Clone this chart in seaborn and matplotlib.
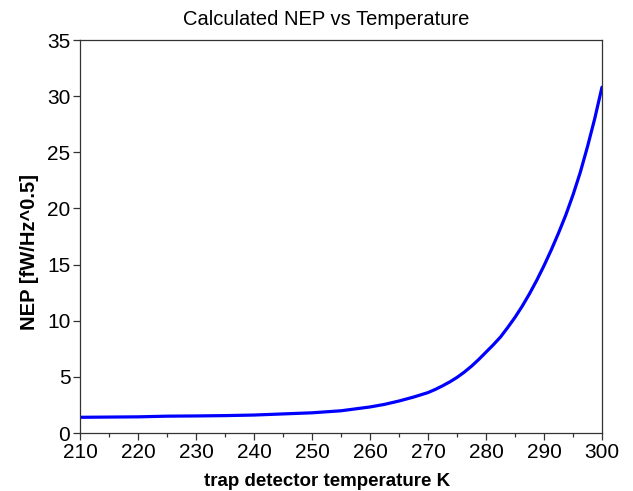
import matplotlib
matplotlib.use("Agg")
import matplotlib.pyplot as plt
from matplotlib.ticker import MultipleLocator
import pandas as pd
import seaborn as sns

# Detector temperature (K) and calculated NEP (fW/Hz^0.5)
temperature = [210, 215, 220, 225, 230, 235, 240, 245, 250, 255, 260,
               262.5, 265, 267.5, 270, 271.25, 272.5, 273.75, 275, 276.25,
               277.5, 278.75, 280, 281.25, 282.5, 283.75, 285, 286.25,
               287.5, 288.75, 290, 291.25, 292.5, 293.75, 295, 296.25,
               297.5, 298.75, 300]
nep = [1.40, 1.42, 1.44, 1.50, 1.52, 1.55, 1.60, 1.70, 1.80, 1.98, 2.32,
       2.55, 2.85, 3.20, 3.60, 3.88, 4.20, 4.55, 4.95, 5.42,
       5.95, 6.55, 7.20, 7.85, 8.55, 9.40, 10.3, 11.3,
       12.4, 13.6, 14.9, 16.3, 17.8, 19.4, 21.2, 23.2,
       25.5, 28.0, 30.8]

df = pd.DataFrame({"T": temperature, "NEP": nep})

sns.set_style("white")
plt.rcParams["font.family"] = ["Liberation Sans", "DejaVu Sans"]
plt.rcParams["text.color"] = "black"
plt.rcParams["axes.labelcolor"] = "black"
plt.rcParams["xtick.color"] = "black"
plt.rcParams["ytick.color"] = "black"

fig = plt.figure(figsize=(6.33, 4.91), dpi=100)
ax = fig.add_axes([0.1264, 0.1181, 0.8246, 0.8004])

sns.lineplot(data=df, x="T", y="NEP", ax=ax, color="#0000ff", linewidth=2.3)

ax.set_xlim(210, 300)
ax.set_ylim(0, 35)
ax.xaxis.set_major_locator(MultipleLocator(10))
ax.xaxis.set_minor_locator(MultipleLocator(5))
ax.yaxis.set_major_locator(MultipleLocator(5))

for side in ax.spines.values():
    side.set_color("#333333")
    side.set_linewidth(0.9)

ax.tick_params(axis="both", which="major", direction="out", length=5,
               width=0.9, color="#333333", labelsize=15, pad=2,
               labelcolor="black", bottom=True, left=True)
ax.tick_params(axis="x", which="minor", direction="out", length=3,
               width=0.9, color="#333333", bottom=True)

ax.set_title("Calculated NEP vs Temperature", fontsize=14.5, color="black",
             x=0.471, y=1.0, pad=11)
ax.set_xlabel("trap detector temperature K", fontsize=13.5,
              fontweight="bold", color="black")
ax.set_ylabel("NEP [fW/Hz^0.5]", fontsize=14.5, fontweight="bold",
              color="black")
ax.xaxis.set_label_coords(0.474, -0.101)
ax.yaxis.set_label_coords(-0.078, 0.46)

fig.savefig("out.png", dpi=100)
